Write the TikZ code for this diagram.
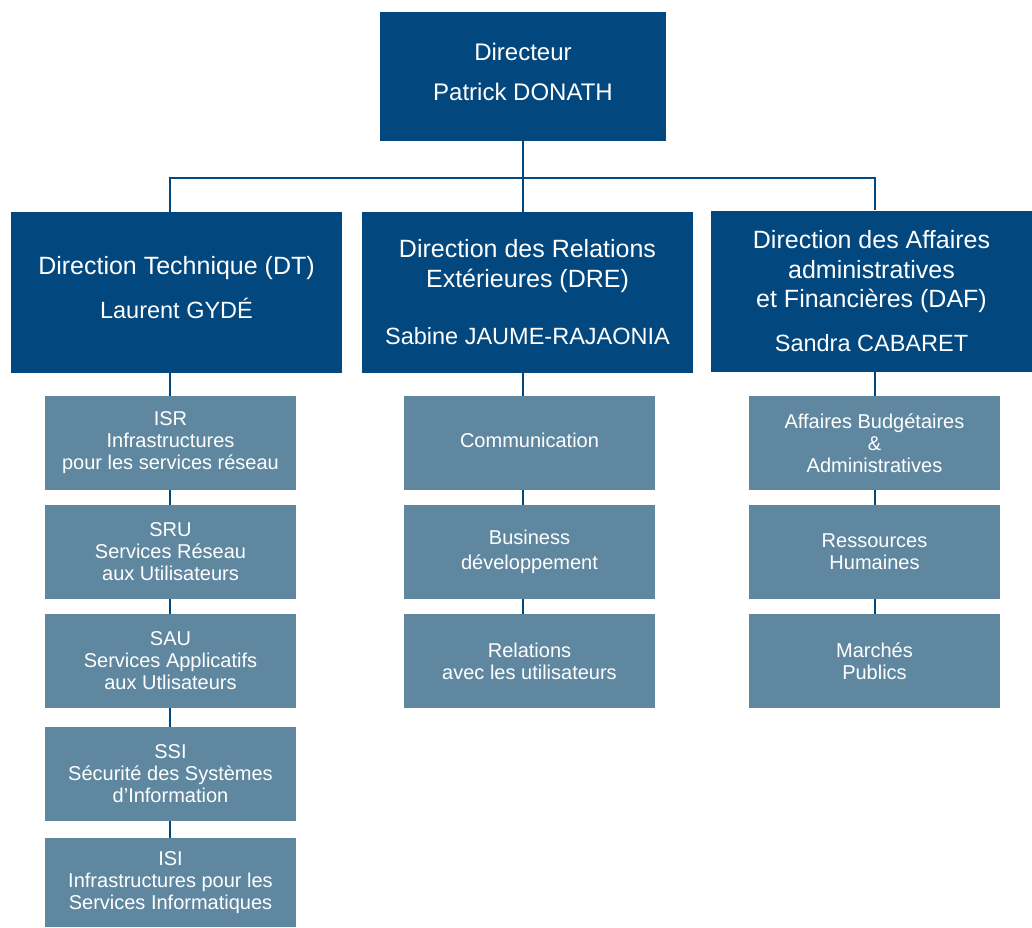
\documentclass[tikz,border=0pt]{standalone}
\usepackage{fontspec}
\setmainfont{Liberation Sans}
\definecolor{deepblue}{HTML}{02477E}
\definecolor{steel}{HTML}{5F88A0}

\begin{document}
\begin{tikzpicture}[x=1pt,y=-1pt,
      chief/.style={fill=deepblue,text=white,minimum width=286pt,minimum height=129pt,align=center,font=\fontsize{24}{29}\selectfont},
      dept/.style={fill=deepblue,text=white,minimum height=161pt,align=center,font=\fontsize{25}{29.5}\selectfont},
      unit/.style={fill=steel,text=white,minimum width=251pt,minimum height=94pt,align=center,font=\fontsize{20}{22}\selectfont},
      link/.style={draw=deepblue,line width=1.4pt}]
    % page is 1032 x 927, y runs downwards
    \useasboundingbox (0,0) rectangle (1032,927);

    % director (empty last line lifts the text a little)
    \node[chief] (dir) at (523,76.5) {Directeur\\[11pt]Patrick DONATH\\[-19pt]};

    % the three directions
    \node[dept,minimum width=331pt] (dt)  at (176.5,292.5) {Direction Technique (DT)\\[15pt]{\fontsize{23.5}{29}\selectfont Laurent GYDÉ}\\[-19.5pt]};
    \node[dept,minimum width=331pt] (dre) at (527.5,292.5) {Direction des Relations\\Extérieures (DRE)\\[28pt]{\fontsize{23.5}{29}\selectfont Sabine JAUME-RAJAONIA}};
    \node[dept,minimum width=321pt] (daf) at (871.5,291) {Direction des Affaires\\administratives\\et Financières (DAF)\\[14pt]{\fontsize{23.5}{29}\selectfont Sandra CABARET}};

    % services under DT
    \node[unit] (isr) at (170.5,443)   {ISR\\Infrastructures\\pour les services réseau};
    \node[unit] (sru) at (170.5,552)   {SRU\\Services Réseau\\aux Utilisateurs};
    \node[unit] (sau) at (170.5,661)   {SAU\\Services Applicatifs\\aux Utlisateurs};
    \node[unit] (ssi) at (170.5,774)   {SSI\\Sécurité des Systèmes\\d’Information};
    \node[unit,minimum height=89pt] (isi) at (170.5,882.5) {ISI\\Infrastructures pour les\\Services Informatiques};

    % services under DRE
    \node[unit] (comm) at (529.5,443) {Communication\\[-16pt]};
    \node[unit] (biz)  at (529.5,552) {Business\\[3pt]développement};
    \node[unit] (rel)  at (529.5,661) {Relations\\avec les utilisateurs};

    % services under DAF
    \node[unit] (aba) at (874.5,443) {Affaires Budgétaires\\\&\\Administratives};
    \node[unit] (rh)  at (874.5,552) {Ressources\\Humaines};
    \node[unit] (mp)  at (874.5,661) {Marchés\\Publics};

    % vertical axes of the connectors
    \coordinate (bus)   at (523,178);
    \coordinate (dtax)  at (170,0);
    \coordinate (dreax) at (523,0);
    \coordinate (dafax) at (875,0);

    % director to directions
    \draw[link] (dir.south) -- (bus);
    \draw[link] (dtax |- dt.north) |- (bus) -| (dafax |- daf.north);
    \draw[link] (bus) -- (dreax |- dre.north);

    % directions to services
    \foreach \a/\b in {dt/isr,isr/sru,sru/sau,sau/ssi,ssi/isi}
      \draw[link] (dtax |- \a.south) -- (dtax |- \b.north);
    \foreach \a/\b in {dre/comm,comm/biz,biz/rel}
      \draw[link] (dreax |- \a.south) -- (dreax |- \b.north);
    \foreach \a/\b in {daf/aba,aba/rh,rh/mp}
      \draw[link] (dafax |- \a.south) -- (dafax |- \b.north);
  \end{tikzpicture}
\end{document}
